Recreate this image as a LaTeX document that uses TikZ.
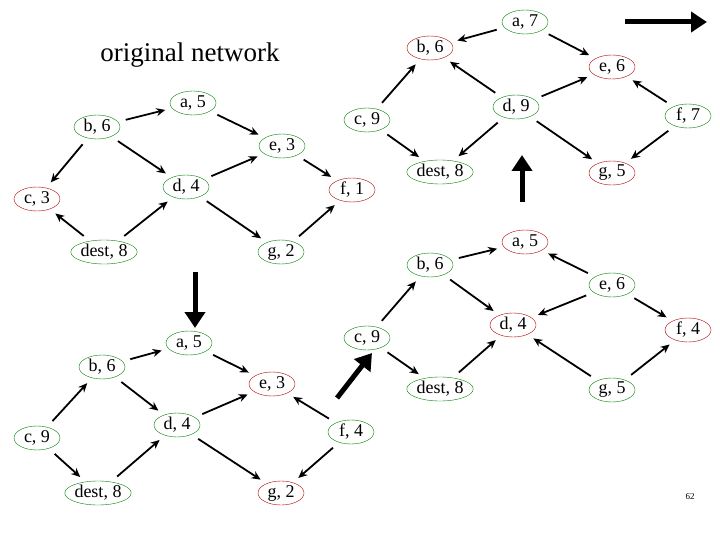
\documentclass[tikz,border=0pt]{standalone}
\usepackage{fontspec}
\setmainfont{Liberation Serif}
\usetikzlibrary{shapes.geometric,arrows.meta}
\begin{document}
\begin{tikzpicture}[x=1pt,y=-1pt,
  g/.style={ellipse,draw=green!50!black,thin,inner sep=0pt,minimum width=46pt,minimum height=24pt,font=\fontsize{18}{18}\selectfont},
  r/.style={g,draw=red!70!black},
  e/.style={-{Stealth[length=9pt,width=8pt]},line width=1.8pt,shorten >=7pt,shorten <=8pt},
  big/.style={-{Triangle[length=16pt,width=20pt]},line width=5pt}]
\useasboundingbox (0,0) rectangle (720,540);
\node[font=\fontsize{27}{27}\selectfont] (title) at (190,55) {original network};
\node[font=\fontsize{9}{9}\selectfont] (pg) at (690,497) {62};
% top-left
\node[g] (a1) at (193,103) {a, 5};
\node[g] (b1) at (97,127) {b, 6};
\node[r] (c1) at (37,199) {c, 3};
\node[g] (d1) at (186,187) {d, 4};
\node[g] (e1) at (282,146) {e, 3};
\node[g] (t1) at (104,252) {dest, 8};
\node[g] (g1) at (281,252) {g, 2};
\node[r] (f1) at (352,190) {f, 1};
\draw[e] (b1)--(a1); \draw[e] (b1)--(c1); \draw[e] (b1)--(d1);
\draw[e] (a1)--(e1); \draw[e] (d1)--(e1); \draw[e] (d1)--(g1);
\draw[e] (t1)--(c1); \draw[e] (t1)--(d1); \draw[e] (e1)--(f1); \draw[e] (g1)--(f1);
% top-right
\node[g] (c2) at (367,120) {c, 9};
\node[r] (b2) at (430,48) {b, 6};
\node[g] (a2) at (525,22) {a, 7};
\node[r] (e2) at (612,67) {e, 6};
\node[g] (d2) at (516,107) {d, 9};
\node[g] (f2) at (688,116) {f, 7};
\node[g] (t2) at (440,172) {dest, 8};
\node[r] (g2) at (612,173) {g, 5};
\draw[e] (c2)--(b2); \draw[e] (c2)--(t2); \draw[e] (a2)--(b2); \draw[e] (a2)--(e2);
\draw[e] (d2)--(b2); \draw[e] (d2)--(e2); \draw[e] (d2)--(t2); \draw[e] (d2)--(g2);
\draw[e] (f2)--(e2); \draw[e] (f2)--(g2);
% bottom-left
\node[g] (c3) at (37,438) {c, 9};
\node[g] (b3) at (102,367) {b, 6};
\node[g] (a3) at (189,343) {a, 5};
\node[r] (e3) at (272,384) {e, 3};
\node[g] (d3) at (177,425) {d, 4};
\node[g] (t3) at (98,493) {dest, 8};
\node[r] (g3) at (281,493) {g, 2};
\node[g] (f3) at (351,432) {f, 4};
\draw[e] (c3)--(b3); \draw[e] (c3)--(t3); \draw[e] (b3)--(a3); \draw[e] (b3)--(d3);
\draw[e] (a3)--(e3); \draw[e] (t3)--(d3); \draw[e] (d3)--(e3); \draw[e] (d3)--(g3);
\draw[e] (f3)--(e3); \draw[e] (f3)--(g3);
% bottom-right
\node[g] (c4) at (367,338) {c, 9};
\node[g] (b4) at (430,265) {b, 6};
\node[r] (a4) at (525,242) {a, 5};
\node[g] (e4) at (612,285) {e, 6};
\node[r] (d4) at (513,325) {d, 4};
\node[r] (f4) at (688,330) {f, 4};
\node[g] (t4) at (440,389) {dest, 8};
\node[g] (g4) at (612,390) {g, 5};
\draw[e] (c4)--(b4); \draw[e] (c4)--(t4); \draw[e] (b4)--(a4); \draw[e] (b4)--(d4);
\draw[e] (e4)--(a4); \draw[e] (e4)--(d4); \draw[e] (e4)--(f4);
\draw[e] (t4)--(d4); \draw[e] (g4)--(d4); \draw[e] (g4)--(f4);
% big arrows
\coordinate (r0) at (625,22); \coordinate (r1) at (707,22);
\coordinate (u0) at (522,202); \coordinate (u1) at (522,155);
\coordinate (d0) at (195,272); \coordinate (d1x) at (195,328);
\coordinate (s0) at (337,398); \coordinate (s1) at (372,353);
\draw[big] (r0)--(r1); \draw[big] (u0)--(u1); \draw[big] (d0)--(d1x); \draw[big] (s0)--(s1);
\end{tikzpicture}
\end{document}
